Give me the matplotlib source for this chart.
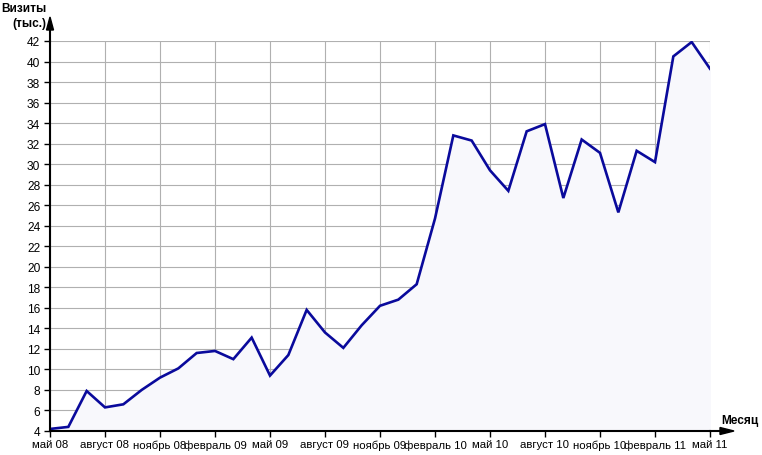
import matplotlib
matplotlib.use("Agg")
import matplotlib.pyplot as plt
from matplotlib.patches import Polygon
from matplotlib.lines import Line2D

# Data
months = list(range(37))  # май 08 .. май 11
visits = [4.2, 4.4, 7.9, 6.3, 6.6, 8.0, 9.2, 10.1, 11.6, 11.8, 11.0, 13.1,
          9.4, 11.4, 15.8, 13.6, 12.1, 14.3, 16.2, 16.8, 18.3, 24.7, 32.8, 32.3,
          29.4, 27.4, 33.2, 33.9, 26.7, 32.4, 31.1, 25.3, 31.3, 30.2, 40.5, 41.9,
          39.3]
tick_pos = list(range(0, 37, 3))
tick_labels = ["май 08", "август 08", "ноябрь 08", "февраль 09", "май 09",
               "август 09", "ноябрь 09", "февраль 10", "май 10", "август 10",
               "ноябрь 10", "февраль 11", "май 11"]
y_ticks = list(range(4, 43, 2))

W, H = 762, 456
fig = plt.figure(figsize=(W / 100, H / 100), dpi=100)
plt.rcParams['font.family'] = ['Liberation Sans', 'DejaVu Sans']

L, R, T, B = 50, 710, 42, 432
ax = fig.add_axes([L / W, 1 - B / H, (R - L) / W, (B - T) / H])
ax.set_xlim(0, 36)
ax.set_ylim(4, 42)

ax.fill_between(months, visits, 4, color='#f8f8fc', zorder=1)
ax.plot(months, visits, color='#0a0a9c', lw=1.9, zorder=3, solid_joinstyle='miter')

ax.set_xticks(tick_pos)
ax.set_xticklabels(tick_labels, fontsize=8.2)
ax.set_yticks(y_ticks)
ax.set_yticklabels([str(v) for v in y_ticks], fontsize=8.6)
ax.grid(True, color='#b0b0b0', lw=0.8, zorder=0)
ax.set_axisbelow(True)
ax.tick_params(axis='both', direction='out', length=4, width=1, color='black', pad=2)
ax.tick_params(axis='y', pad=3)

for s in ['top', 'right']:
    ax.spines[s].set_visible(False)
for s in ['left', 'bottom']:
    ax.spines[s].set_linewidth(1.5)
    ax.spines[s].set_color('black')
    ax.spines[s].set_zorder(4)

def fx(px):
    return px / W

def fy(py):
    return 1 - py / H

# y-axis extension and arrow
fig.add_artist(Line2D([fx(L), fx(L)], [fy(T), fy(30)], color='black', lw=1.5,
                      transform=fig.transFigure))
fig.add_artist(Polygon([[fx(L - 3.5), fy(31)], [fx(L + 3.5), fy(31)], [fx(L), fy(18)]],
                       closed=True, color='black', transform=fig.transFigure))
# x-axis extension and arrow
fig.add_artist(Line2D([fx(R), fx(721)], [fy(B), fy(B)], color='black', lw=1.5,
                      transform=fig.transFigure))
fig.add_artist(Polygon([[fx(720), fy(B - 3.5)], [fx(720), fy(B + 3.5)], [fx(734), fy(B)]],
                       closed=True, color='black', transform=fig.transFigure))

fig.text(fx(46), fy(9), "Визиты", fontsize=8.6, fontweight='bold', ha='right', va='center')
fig.text(fx(46), fy(24), "(тыс.)", fontsize=8.6, fontweight='bold', ha='right', va='center')
fig.text(fx(758), fy(421), "Месяц", fontsize=8.6, fontweight='bold', ha='right', va='center')

fig.savefig("out.png", dpi=100)
